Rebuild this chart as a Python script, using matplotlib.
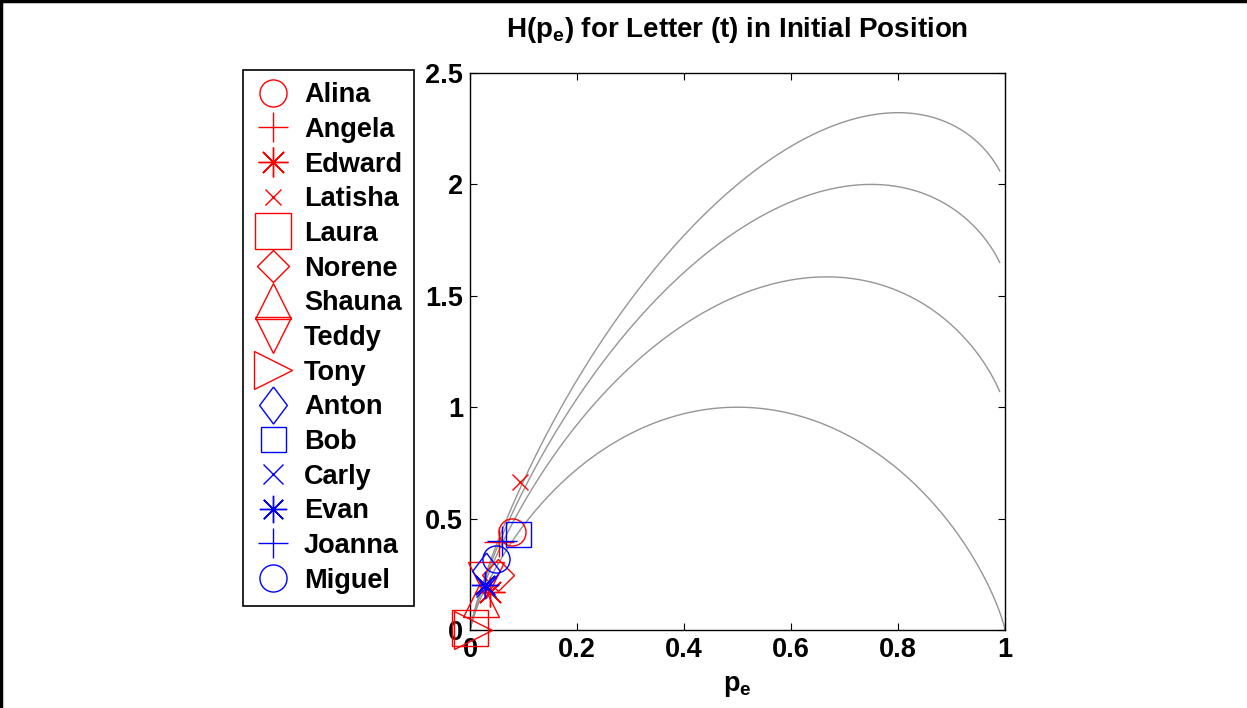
import numpy as np
import matplotlib
matplotlib.use('Agg')
import matplotlib.pyplot as plt
from matplotlib.lines import Line2D

plt.rcParams['font.family'] = ['Liberation Sans', 'DejaVu Sans']
plt.rcParams['font.weight'] = 'bold'
plt.rcParams['mathtext.fontset'] = 'custom'
plt.rcParams['mathtext.rm'] = 'Liberation Sans:bold'
plt.rcParams['mathtext.it'] = 'Liberation Sans:bold'
plt.rcParams['mathtext.bf'] = 'Liberation Sans:bold'
plt.rcParams['mathtext.default'] = 'rm'

# speakers, colour group, marker and (p_e, H)
names = ['Alina', 'Angela', 'Edward', 'Latisha', 'Laura', 'Norene', 'Shauna',
         'Teddy', 'Tony', 'Anton', 'Bob', 'Carly', 'Evan', 'Joanna', 'Miguel']
colors = ['red'] * 9 + ['blue'] * 6
p_e = [0.079, 0.055, 0.037, 0.093, 0.000, 0.053, 0.020,
       0.030, 0.005, 0.030, 0.090, 0.030, 0.028, 0.060, 0.048]
H = [0.440, 0.395, 0.172, 0.665, 0.008, 0.247, 0.140,
     0.225, 0.000, 0.265, 0.432, 0.195, 0.200, 0.400, 0.320]

# alphabet sizes of the Fano curves and where each drawn curve stops
alphabet_sizes = [2, 3, 4, 5]
curve_ends = [0.9999, 0.99, 0.99, 0.99]

diamond_thin = [(0, 1), (0.75, 0), (0, -1), (-0.75, 0), (0, 1)]
markers = ['o', '+', (8, 2, 0), 'x', 's', 'D', '^', 'v', '>',
           diamond_thin, 's', 'x', (8, 2, 0), '+', 'o']
sizes = [19.5, 21, 21.5, 12, 26.5, 16.8, 26.6, 26, 27,
         26.6, 18, 15, 19.7, 21, 19.5]

fig = plt.figure(figsize=(12.47, 7.08), dpi=100)
ax = fig.add_axes([470 / 1247, 78 / 708, 535 / 1247, 557 / 708])

for n, end in zip(alphabet_sizes, curve_ends):
    p = np.linspace(1e-4, end, 600)
    h = -p * np.log2(p) - (1 - p) * np.log2(1 - p) + p * np.log2(n - 1)
    ax.plot(p, h, color='#959595', lw=1.0, zorder=1)

for i, name in enumerate(names):
    ax.plot(p_e[i], H[i], linestyle='none', marker=markers[i], ms=sizes[i],
            mfc='none', mec=colors[i], mew=1.0, label=name, clip_on=False,
            zorder=3)

ax.set_xlim(0, 1)
ax.set_ylim(0, 2.5)
ax.set_xticks([0, 0.2, 0.4, 0.6, 0.8, 1])
ax.set_xticklabels(['0', '0.2', '0.4', '0.6', '0.8', '1'])
ax.set_yticks([0, 0.5, 1, 1.5, 2, 2.5])
ax.set_yticklabels(['0', '0.5', '1', '1.5', '2', '2.5'])
ax.tick_params(direction='in', length=5, width=0.8, labelsize=19.5,
               top=True, right=True, pad=5)
for s in ax.spines.values():
    s.set_linewidth(1.0)

ax.set_title('H(p$_e$) for Letter (t) in Initial Position', fontsize=20,
             fontweight='bold', pad=26)
ax.set_xlabel('p$_e$', fontsize=19.5, fontweight='bold', labelpad=7)
ax.set_ylabel('H(p$_e$)', fontsize=19.5, fontweight='bold')
ax.yaxis.set_label_coords(-0.105, 0.53)

leg = ax.legend(loc='upper left', bbox_to_anchor=(243 / 1247, 1 - 70 / 708),
                bbox_transform=fig.transFigure, borderaxespad=0, numpoints=1,
                prop={'size': 19.5, 'weight': 'bold'}, fancybox=False,
                framealpha=1, edgecolor='black', borderpad=0.45,
                handlelength=1.35, handletextpad=0.45, labelspacing=0.32)
leg.get_frame().set_linewidth(1.2)
leg.set_zorder(10)

# figure border (top and left edges)
fig.add_artist(Line2D([0.001, 0.001], [0, 1], transform=fig.transFigure,
                      color='black', lw=2.5))
fig.add_artist(Line2D([0, 1], [0.999, 0.999], transform=fig.transFigure,
                      color='black', lw=2.5))

fig.savefig('out.png', dpi=100)
